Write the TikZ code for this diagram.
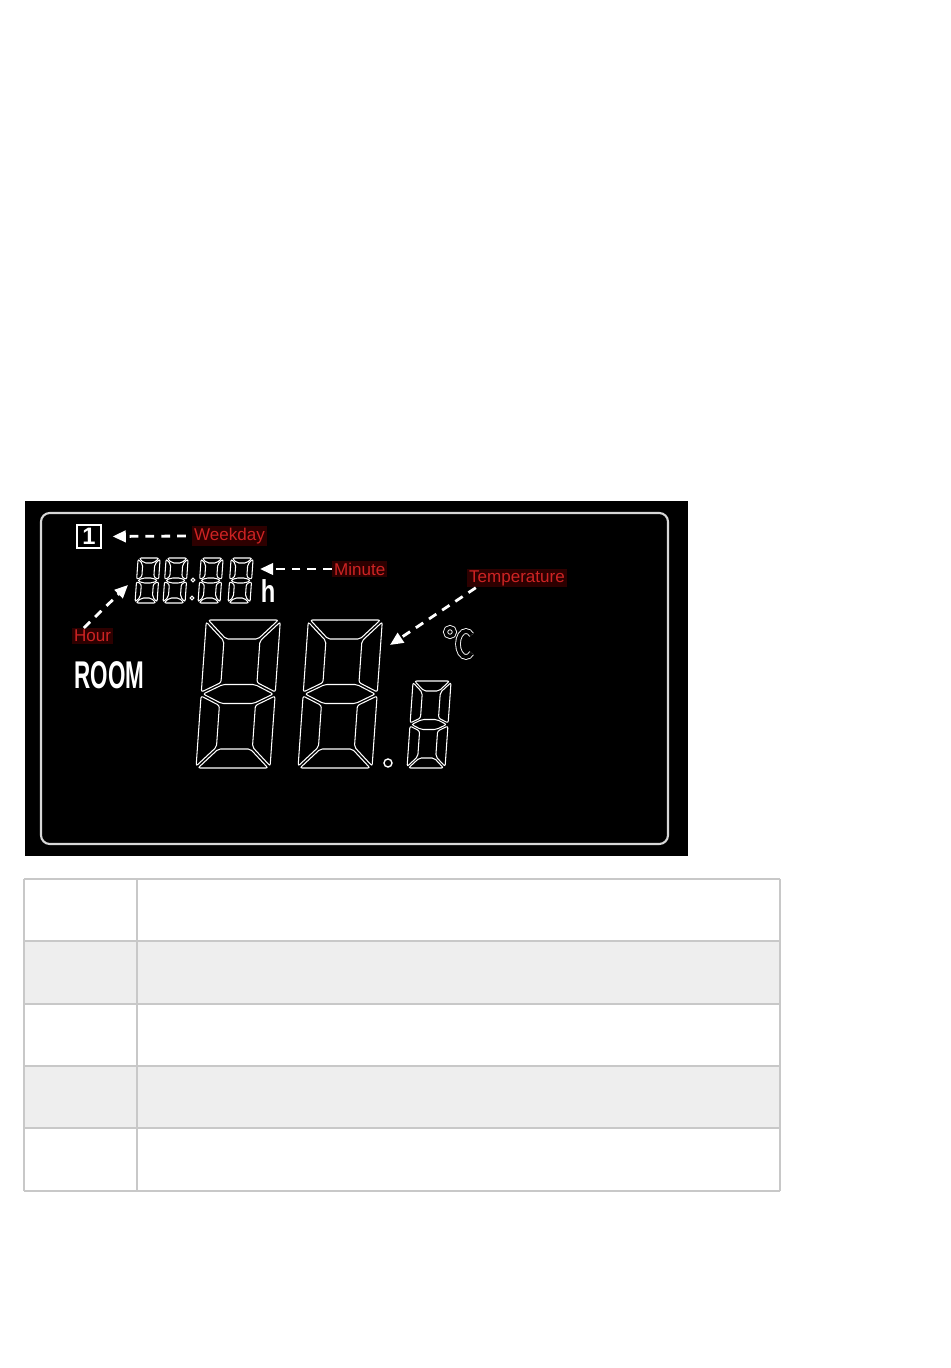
\documentclass[tikz,border=0pt]{standalone}
\usepackage{fontspec}
\setmainfont{Liberation Sans}
\usetikzlibrary{arrows.meta,positioning}
\definecolor{lcdred}{RGB}{205,35,35}
\definecolor{lcdshade}{RGB}{45,0,0}
\definecolor{gridgray}{RGB}{200,200,200}
\definecolor{rowgray}{RGB}{238,238,238}
\definecolor{framegray}{RGB}{215,215,215}

% seven segment digit: x, y of bottom left (px), width, height, thickness, gap
\newcommand{\segdigit}[6]{%
  \begin{scope}[shift={(#1,#2)}, y=0.02cm, xslant=0.07]
    \pgfmathsetmacro\dW{#3}\pgfmathsetmacro\dH{#4}\pgfmathsetmacro\dT{#5}
    \pgfmathsetmacro\dG{#6}\pgfmathsetmacro\dM{#4/2}\pgfmathsetmacro\dh{#5/2}
    \draw[seg_line] (\dG,\dH) -- (\dW-\dG,\dH) -- (\dW-\dT-\dG,\dH-\dT) -- (\dT+\dG,\dH-\dT) -- cycle;
    \draw[seg_line] (0,\dH-\dG) -- (\dT,\dH-\dT-\dG) -- (\dT,\dM+\dh+\dG) -- (0,\dM+\dG) -- cycle;
    \draw[seg_line] (\dW,\dH-\dG) -- (\dW-\dT,\dH-\dT-\dG) -- (\dW-\dT,\dM+\dh+\dG) -- (\dW,\dM+\dG) -- cycle;
    \draw[seg_line] (\dG,\dM) -- (\dT+\dG,\dM+\dh) -- (\dW-\dT-\dG,\dM+\dh) -- (\dW-\dG,\dM) -- (\dW-\dT-\dG,\dM-\dh) -- (\dT+\dG,\dM-\dh) -- cycle;
    \draw[seg_line] (0,\dM-\dG) -- (\dT,\dM-\dh-\dG) -- (\dT,\dT+\dG) -- (0,\dG) -- cycle;
    \draw[seg_line] (\dW,\dM-\dG) -- (\dW-\dT,\dM-\dh-\dG) -- (\dW-\dT,\dT+\dG) -- (\dW,\dG) -- cycle;
    \draw[seg_line] (\dG,0) -- (\dW-\dG,0) -- (\dW-\dT-\dG,\dT) -- (\dT+\dG,\dT) -- cycle;
  \end{scope}}

\begin{document}
\begin{tikzpicture}[x=0.02cm,y=-0.02cm,
  seg_line/.style={draw=white,line width=0.6pt,rounded corners=1.2pt},
  tag_node/.style={text=lcdred,fill=lcdshade,inner sep=1pt,font=\fontsize{9.7}{11}\selectfont},
  arrow_line/.style={draw=white,line width=1.6pt,dash pattern=on 5pt off 4pt,-{Triangle[length=7.5pt,width=6.5pt]}},
  grid_line/.style={draw=gridgray,line width=0.6pt}]

  \useasboundingbox (0,0) rectangle (950,1368);
  \fill[white] (0,0) rectangle (950,1368);

  % display
  \fill[black] (25,501) rectangle (688,856);
  \draw[draw=framegray,line width=1.2pt,rounded corners=5pt] (41,513) rectangle (668,844);

  \node[draw=white,line width=1.2pt,minimum width=0.48cm,minimum height=0.46cm,inner sep=0pt,text=white,font=\fontsize{13.5}{14}\bfseries\selectfont] (wkbox) at (89,536.5) {1};
  \node[tag_node,anchor=west] (weekday) at (192,536) {Weekday};
  \node[tag_node,anchor=west] (minute) at (332,569) {Minute};
  \node[tag_node,anchor=west] (hour) at (72,636) {Hour};
  \node[tag_node,anchor=west] (temp) at (467,578) {Temperature};
  \node[text=white,font=\fontsize{22}{22}\bfseries\selectfont,anchor=base,inner sep=0pt] (room) at (109.5,688) {\scalebox{0.58}[1]{ROOM}};
  \node[text=white,font=\fontsize{18}{18}\bfseries\selectfont,anchor=base,inner sep=0pt] (hunit) at (268,602) {\scalebox{0.75}[1]{h}};

  % clock
  \segdigit{135}{603}{22}{45}{5}{1}
  \segdigit{163}{603}{22}{45}{5}{1}
  \segdigit{198}{603}{22}{45}{5}{1}
  \segdigit{228}{603}{22}{45}{5}{1}
  \draw[white,line width=0.6pt] (193,580) circle[radius=1.8];
  \draw[white,line width=0.6pt] (192,598) circle[radius=1.8];

  % temperature
  \segdigit{196}{768}{74}{148}{19}{2}
  \segdigit{298}{768}{74}{148}{19}{2}
  \segdigit{407}{768}{38}{87}{10}{1.5}
  \draw[white,line width=0.8pt] (388,763) circle[radius=4];
  \draw[white,line width=0.5pt,double=black,double distance=1.8pt] (450,632) circle[radius=4.5];
  \draw[white,line width=0.5pt,double=black,double distance=2.2pt] (466,644) ++(45:8 and 13) arc[start angle=45,end angle=315,x radius=8,y radius=13];

  \coordinate (mintip) at (260,569);
  \coordinate (hourtip) at (128,585);
  \coordinate (temptip) at (390,645);

  \draw[arrow_line,shorten <=3.5pt,shorten >=6pt] (weekday.west) -- (wkbox.east);
  \draw[arrow_line] (minute.west) -- (mintip);
  \draw[arrow_line] ([xshift=-5pt]hour.north) -- (hourtip);
  \draw[arrow_line] ([xshift=5pt]temp.south west) -- (temptip);

  % table
  \fill[rowgray] (24,941) rectangle (780,1004);
  \fill[rowgray] (24,1066) rectangle (780,1128);
  \foreach \yy in {879,941,1004,1066,1128,1191}
    \draw[grid_line] (24,\yy) -- (780,\yy);
  \foreach \xx in {24,137,780}
    \draw[grid_line] (\xx,879) -- (\xx,1191);
\end{tikzpicture}
\end{document}
